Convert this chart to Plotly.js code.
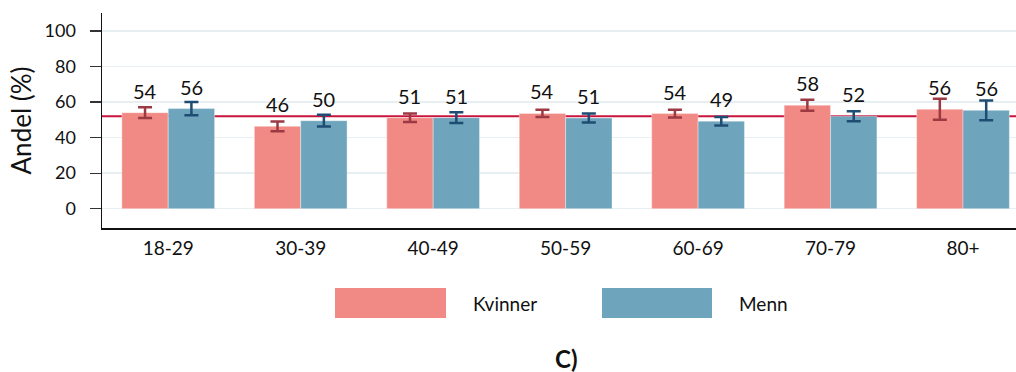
<!DOCTYPE html>
<html>
<head>
<meta charset="utf-8">
<script src="https://cdn.plot.ly/plotly-3.0.1.min.js"></script>
<style>
html,body{margin:0;padding:0;background:#fff;}
#chart{width:1016px;height:372px;}
</style>
</head>
<body>
<div id="chart"></div>
<script>
const categories = ["18-29", "30-39", "40-49", "50-59", "60-69", "70-79", "80+"];
const kvinnerValues = [54.0, 46.3, 51.2, 53.6, 53.5, 58.2, 55.9];
const mennValues    = [56.3, 49.5, 51.2, 51.0, 49.2, 52.0, 55.3];
const kvinnerErr = [3.0, 2.7, 2.4, 2.0, 2.2, 3.1, 5.9];
const mennErr    = [3.7, 3.3, 3.0, 2.5, 2.4, 2.8, 5.5];
const kvinnerLabels = ["54", "46", "51", "54", "54", "58", "56"];
const mennLabels    = ["56", "50", "51", "51", "49", "52", "56"];
const referenceLine = 52;
const seriesNames = ["Kvinner", "Menn"];
const panelLabel = "C)";
const yTicks = [0, 20, 40, 60, 80, 100];

const FONT = "Lato, 'Open Sans', sans-serif";
const colK = "#f18a84", colM = "#6ea5bd";
const errK = "#9c3a44", errM = "#1f4c72";

const traces = [
  {
    type: "bar", name: seriesNames[0], x: categories, y: kvinnerValues,
    marker: {color: colK, line: {color: "rgba(255,255,255,0.35)", width: 1}},
    error_y: {type: "data", array: kvinnerErr, visible: true, color: errK, thickness: 2.5, width: 7},
    showlegend: false, hoverinfo: "skip"
  },
  {
    type: "bar", name: seriesNames[1], x: categories, y: mennValues,
    marker: {color: colM, line: {color: "rgba(255,255,255,0.35)", width: 1}},
    error_y: {type: "data", array: mennErr, visible: true, color: errM, thickness: 2.5, width: 7},
    showlegend: false, hoverinfo: "skip"
  }
];

const barHalf = 0.175;
const annotations = [];
categories.forEach((c, i) => {
  annotations.push({x: i - barHalf, y: kvinnerValues[i], xref: "x", yref: "y", text: kvinnerLabels[i],
    showarrow: false, yshift: 22, yanchor: "middle", font: {family: FONT, size: 20, color: "#111"}});
  annotations.push({x: i + barHalf, y: mennValues[i], xref: "x", yref: "y", text: mennLabels[i],
    showarrow: false, yshift: 22, yanchor: "middle", font: {family: FONT, size: 20, color: "#111"}});
});

// legend (drawn manually for large swatches)
const px2x = p => (p - 102) / 914;
const py2y = p => (228 - p) / 215;
const shapes = [
  {type: "line", xref: "paper", yref: "y", x0: 0, x1: 1, y0: referenceLine, y1: referenceLine,
   line: {color: "#c8143c", width: 2}, layer: "between"},
  {type: "rect", xref: "paper", yref: "paper", x0: px2x(335), x1: px2x(446), y0: py2y(288), y1: py2y(318),
   fillcolor: colK, line: {width: 0}},
  {type: "rect", xref: "paper", yref: "paper", x0: px2x(602), x1: px2x(712), y0: py2y(288), y1: py2y(318),
   fillcolor: colM, line: {width: 0}}
];
annotations.push({xref: "paper", yref: "paper", x: px2x(471), y: py2y(303), xanchor: "left", yanchor: "middle",
  text: seriesNames[0], showarrow: false, font: {family: FONT, size: 19, color: "#111"}});
annotations.push({xref: "paper", yref: "paper", x: px2x(737), y: py2y(303), xanchor: "left", yanchor: "middle",
  text: seriesNames[1], showarrow: false, font: {family: FONT, size: 19, color: "#111"}});
annotations.push({xref: "paper", yref: "paper", x: px2x(566), y: py2y(359), xanchor: "center", yanchor: "middle",
  text: "<b>" + panelLabel + "</b>", showarrow: false, font: {family: FONT, size: 24, color: "#111"}});

const layout = {
  width: 1016, height: 372,
  margin: {l: 102, r: 0, t: 13, b: 144},
  paper_bgcolor: "#fff", plot_bgcolor: "#fff",
  font: {family: FONT, color: "#111"},
  barmode: "group", bargap: 0.3, bargroupgap: 0,
  xaxis: {
    type: "category", range: [-0.5, 6.4], showgrid: false, zeroline: false,
    showline: true, linecolor: "#111", linewidth: 1.5, ticks: "", ticklabelstandoff: 3,
    tickfont: {family: FONT, size: 19, color: "#111"}, fixedrange: true
  },
  yaxis: {
    range: [-10.9, 110.1], tickvals: yTicks, ticktext: yTicks.map(String),
    showgrid: true, gridcolor: "#e7eff2", gridwidth: 1.5, zeroline: false,
    showline: true, linecolor: "#111", linewidth: 1.5,
    ticks: "outside", ticklen: 11, tickwidth: 1.2, tickcolor: "#333", ticklabelstandoff: 10,
    tickfont: {family: FONT, size: 18, color: "#111"},
    title: {text: "Andel (%)", font: {family: FONT, size: 26, color: "#111"}, standoff: 5},
    fixedrange: true
  },
  shapes: shapes,
  annotations: annotations,
  showlegend: false
};

Plotly.newPlot("chart", traces, layout, {staticPlot: true, displayModeBar: false});
</script>
</body>
</html>
